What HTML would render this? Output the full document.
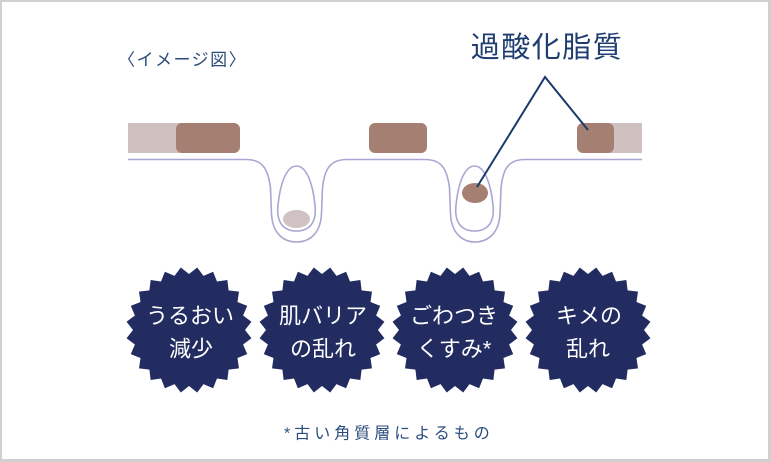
<!DOCTYPE html>
<html>
<head>
<meta charset="utf-8">
<style>
html,body{margin:0;padding:0;background:#fff;}
body{width:771px;height:462px;overflow:hidden;}
.frame{position:absolute;left:0;top:0;width:771px;height:462px;box-sizing:border-box;border-left:2px solid #d0d0d0;border-top:2px solid #d0d0d0;border-right:3px solid #d0d0d0;border-bottom:3px solid #d0d0d0;}
svg{position:absolute;left:0;top:0;}
text{font-family:"Liberation Sans","Noto Sans CJK JP",sans-serif;}
</style>
</head>
<body>
<div class="frame"></div>
<svg width="771" height="462" viewBox="0 0 771 462" xmlns="http://www.w3.org/2000/svg">
  <defs>
    <polygon id="burst" points="56,0 62.46,8.22 54.09,14.49 58.2,24.11 48.5,28 49.98,38.35 39.6,39.6 38.35,49.98 28,48.5 24.11,58.2 14.49,54.09 8.22,62.46 0,56 -8.22,62.46 -14.49,54.09 -24.11,58.2 -28,48.5 -38.35,49.98 -39.6,39.6 -49.98,38.35 -48.5,28 -58.2,24.11 -54.09,14.49 -62.46,8.22 -56,0 -62.46,-8.22 -54.09,-14.49 -58.2,-24.11 -48.5,-28 -49.98,-38.35 -39.6,-39.6 -38.35,-49.98 -28,-48.5 -24.11,-58.2 -14.49,-54.09 -8.22,-62.46 0,-56 8.22,-62.46 14.49,-54.09 24.11,-58.2 28,-48.5 38.35,-49.98 39.6,-39.6 49.98,-38.35 48.5,-28 58.2,-24.11 54.09,-14.49 62.46,-8.22" fill="#222c61"/>
  </defs>

  <!-- title -->
  <text x="118" y="60" font-size="17" letter-spacing="1.5" fill="#2a4b7c" dominant-baseline="central">〈イメージ図〉</text>
  <text x="547" y="48" font-size="29" letter-spacing="1.5" fill="#1f3d6e" text-anchor="middle" dominant-baseline="central">過酸化脂質</text>

  <!-- skin bars -->
  <rect x="128" y="123" width="80" height="30" fill="#d0c1c1"/>
  <rect x="176" y="123" width="64" height="30" rx="6" fill="#a67f73"/>
  <rect x="369" y="123" width="58" height="30" rx="6" fill="#a67f73"/>
  <rect x="600" y="123" width="42" height="30" fill="#d0c1c1"/>
  <rect x="577" y="123" width="37" height="30" rx="6" fill="#a67f73"/>

  <!-- skin line -->
  <path d="M128,159.5 H246 C262,159.5 268,168 270.5,188 L271.5,214 C272.5,234 284,242 296.5,242 C309,242 320.5,234 321.5,214 L322.5,188 C324.5,168 331,159.5 347,159.5 H425 C441,159.5 447,168 449.5,188 L450.5,214 C451.5,234 463,242 475,242 C487,242 499,234 500,214 L501,188 C503,168 509,159.5 525,159.5 H642" fill="none" stroke="#a9a6d3" stroke-width="1.6"/>
  <path d="M296.5,166 C286,166 280,185 278,205 C276,223 284,231 296.5,231 C309,231 317,223 315,205 C313,185 307,166 296.5,166 Z" fill="none" stroke="#a9a6d3" stroke-width="1.6"/>
  <path d="M474.5,166 C464,166 458,185 456,205 C454,223 462,231 474.5,231 C487,231 495,223 493,205 C491,185 485,166 474.5,166 Z" fill="none" stroke="#a9a6d3" stroke-width="1.6"/>

  <ellipse cx="296.5" cy="219" rx="13.5" ry="9" fill="#d0c2c2"/>
  <ellipse cx="475" cy="193" rx="13" ry="10" fill="#a67f73"/>

  <!-- leader lines -->
  <polyline points="477,187 545,77 588,130" fill="none" stroke="#1a3a6c" stroke-width="2"/>

  <!-- bursts -->
  <use href="#burst" transform="translate(189,330)"/>
  <use href="#burst" transform="translate(322,330)"/>
  <use href="#burst" transform="translate(455,330)"/>
  <use href="#burst" transform="translate(588,330)"/>

  <g font-size="22" fill="#ffffff" text-anchor="middle" dominant-baseline="central">
    <text x="190" y="316">うるおい</text>
    <text x="191" y="349">減少</text>
    <text x="323" y="316">肌バリア</text>
    <text x="323" y="349">の乱れ</text>
    <text x="454" y="316">ごわつき</text>
    <text x="454" y="349">くすみ*</text>
    <text x="589" y="316">キメの</text>
    <text x="588" y="349">乱れ</text>
  </g>

  <!-- footnote -->
  <text x="284" y="434" font-size="16" letter-spacing="4" fill="#2b4c7d" dominant-baseline="central">*古い角質層によるもの</text>
</svg>
</body>
</html>
